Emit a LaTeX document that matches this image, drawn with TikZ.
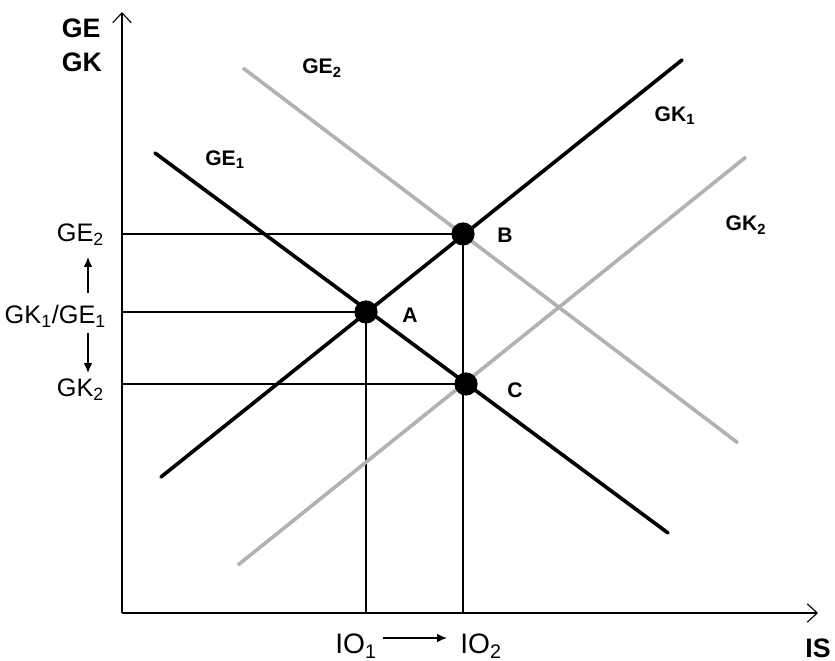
\documentclass[tikz,border=0pt]{standalone}
\usepackage{fontspec}
\setmainfont{Liberation Sans}
\usetikzlibrary{arrows.meta,positioning}

\begin{document}
\begin{tikzpicture}[
    x=0.025cm, y=-0.025cm,
    every node/.style={font=\fontsize{15}{17}\selectfont\bfseries},
    curve/.style={line width=2.6pt, line cap=round},
    shifted/.style={line width=2.6pt, draw=black!30},
    guide/.style={line width=0.8pt},
    axis/.style={line width=0.8pt, -{Straight Barb[length=7pt,width=13pt]}},
    dot/.style={circle, fill=black, minimum size=0.58cm, inner sep=0pt},
    level/.style={font=\fontsize{18}{20}\selectfont, anchor=east},
    shiftarrow/.style={-{Latex[length=7pt,width=6pt]}, line width=0.8pt}
]
\useasboundingbox (0,0) rectangle (835,661);

% axes
\coordinate (O) at (122,613);
\coordinate (ytop) at (122,12);
\coordinate (xend) at (818,613);
\draw[axis] (O) -- (ytop);
\draw[axis] (O) -- (xend);
\node[font=\fontsize{19}{24}\selectfont\bfseries, align=left] (yname) at (82,45) {GE\\GK};
\node[font=\fontsize{19}{22}\selectfont\bfseries] (xname) at (818,648) {IS};

% curve end points
\coordinate (ge1s) at (155,153);
\coordinate (ge1e) at (668,533);
\coordinate (gk1s) at (161,477);
\coordinate (gk1e) at (682,60);
\coordinate (ge2s) at (243,68);
\coordinate (ge2e) at (738,443);
\coordinate (gk2s) at (238,565);
\coordinate (gk2e) at (746,157);

% equilibria
\coordinate (A) at (366,312);
\coordinate (B) at (463,234);
\coordinate (C) at (466,384);

% guide lines
\draw[guide] (O |- B) -- (B);
\draw[guide] (O |- A) -- (A);
\draw[guide] (O |- C) -- (C);
\draw[guide] (A) -- (A |- O);
\draw[guide] (B) -- (B |- O);

% shifted curves
\draw[shifted] (ge2s) -- (ge2e);
\draw[shifted] (gk2s) -- (gk2e);

% initial curves
\draw[curve] (ge1s) -- (ge1e);
\draw[curve] (gk1s) -- (gk1e);

\node[dot] (ptA) at (A) {};
\node[dot] (ptB) at (B) {};
\node[dot] (ptC) at (C) {};

\node (lblA) at (410,315) {A};
\node (lblB) at (505,235) {B};
\node (lblC) at (515,390) {C};

% curve labels
\node (lblge2) at (322,68) {GE\textsubscript{2}};
\node (lblge1) at (225,160) {GE\textsubscript{1}};
\node (lblgk1) at (675,116) {GK\textsubscript{1}};
\node (lblgk2) at (746,225) {GK\textsubscript{2}};

% y levels
\node[level] (ylev2) at (109,235) {GE\textsubscript{2}};
\node[level] (ylev1) at (111,316) {GK\textsubscript{1}/GE\textsubscript{1}};
\node[level] (ylev3) at (109,390) {GK\textsubscript{2}};
\coordinate (upfrom) at (88,293);
\coordinate (upto) at (88,257);
\coordinate (downfrom) at (88,333);
\coordinate (downto) at (88,373);
\draw[shiftarrow] (upfrom) -- (upto);
\draw[shiftarrow] (downfrom) -- (downto);

% x levels
\node[font=\fontsize{20}{22}\selectfont] (io1) at (356,646) {IO\textsubscript{1}};
\node[font=\fontsize{20}{22}\selectfont] (io2) at (481,646) {IO\textsubscript{2}};
\coordinate (iofrom) at (383,638);
\coordinate (ioto) at (447,638);
\draw[shiftarrow] (iofrom) -- (ioto);

\end{tikzpicture}
\end{document}
